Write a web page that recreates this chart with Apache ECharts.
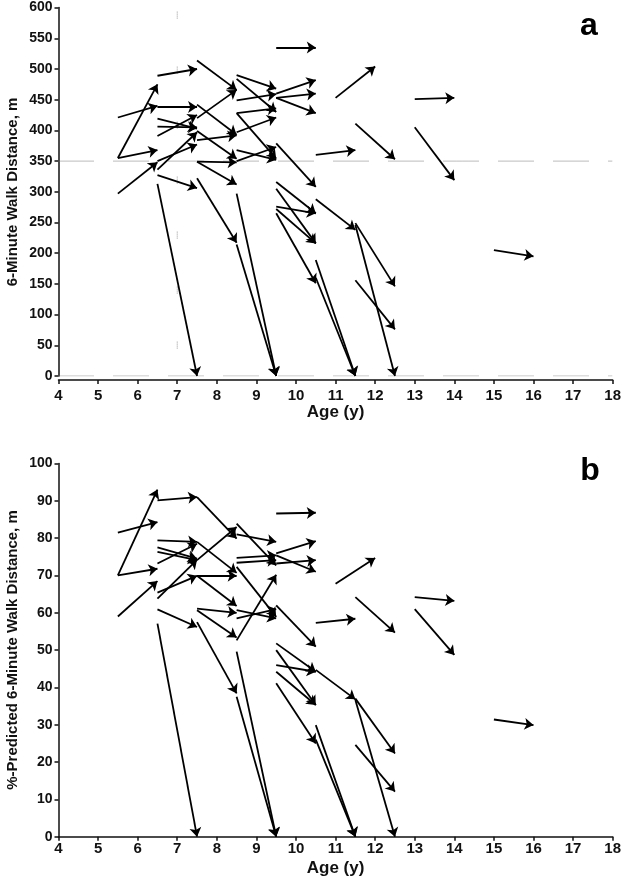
<!DOCTYPE html>
<html><head><meta charset="utf-8">
<script src="https://cdn.jsdelivr.net/npm/echarts@6/dist/echarts.min.js"></script>
<style>html,body{margin:0;padding:0;background:#fff}#c{width:624px;height:882px}</style>
</head><body><div id="c"></div>
<script>
// ---------- Panel a: 6-minute walk distance (m) ----------
const fromAgeA  = [5.5,5.5,5.5,5.5, 6.5,6.5,6.5,6.5,6.5,6.5,6.5,6.5,6.5, 7.5,7.5,7.5,7.5,7.5,7.5,7.5,7.5, 8.5,8.5,8.5,8.5,8.5,8.5,8.5,8.5,8.5,8.5, 9.5,9.5,9.5,9.5,9.5,9.5,9.5,9.5,9.5,9.5, 10.5,10.5,10.5,10.5, 11, 11.5,11.5,11.5,11.5, 13,13, 15];
const fromDistA = [421,355,355,297, 489,438,419,406,391,350,336,327,313, 514,420,442,399,384,349,349,322, 490,484,449,428,428,397,368,350,297,214, 535,460,453,453,379,316,305,276,272,265, 360,288,189,160, 453, 411,249,246,156, 451,405, 205];
const toAgeA    = [6.5,6.5,6.5,6.5, 7.5,7.5,7.5,7.5,7.5,7.5,7.5,7.5,7.5, 8.5,8.5,8.5,8.5,8.5,8.5,8.5,8.5, 9.5,9.5,9.5,9.5,9.5,9.5,9.5,9.5,9.5,9.5, 10.5,10.5,10.5,10.5,10.5,10.5,10.5,10.5,10.5,10.5, 11.5,11.5,11.5,11.5, 12, 12.5,12.5,12.5,12.5, 14,14, 16];
const toDistA   = [440,475,368,348, 500,438,403,405,425,377,397,306,0, 466,466,393,354,392,348,312,217, 468,430,459,436,354,421,352,373,0,0, 535,482,460,428,308,265,216,265,216,151, 368,238,0,0, 504, 353,146,0,76, 453,319, 195];

// ---------- Panel b: %-predicted 6-minute walk distance ----------
const fromAgeB  = fromAgeA.slice();
const fromPctB  = [81.5,70,70,59, 90.1,79.4,77.5,76.3,73.2,65.4,63.8,60.9,57.1, 91,79,74.1,69.9,69.9,61.1,60.7,57.5, 83.9,81,74.7,73.4,72.3,60.7,58.5,52.6,49.6,37.5, 86.6,75.9,75.4,73.2,62,51.8,50,46,44.2,41.1, 57.3,44.7,29.9,26, 67.8, 64.2,37,36.6,24.6, 64.2,61, 31.4];
const toAgeB    = toAgeA.slice();
const toPctB    = [84.3,93,71.8,68.5, 91,79,74.5,74.1,78.5,69.9,74.2,56.2,0, 79.9,70.7,83,69.9,61.8,60,53.4,38.4, 72.7,79,75.4,74.1,58.9,58.5,61,70.2,0,0, 86.8,79.2,71,74.1,50.9,44.2,35.3,44.2,35.3,25, 58.4,36.8,0,0, 74.7, 54.7,22.3,0,12.1, 63.2,48.7, 29.9];

// ---------- axes & reference lines ----------
const ageRange   = [4, 18];
const distRange  = [0, 600];
const pctRange   = [0, 100];
const refDistA   = [350, 0];   // horizontal dotted lines, panel a
const refAgeA    = [7];        // faint vertical dotted line, panel a

const FONT = "'Liberation Sans', Arial, Helvetica, sans-serif";

function arrows(fa, fv, ta, tv) {
  return fa.map((a, i) => ({ coords: [[a, fv[i]], [ta[i], tv[i]]] }));
}
function dotted(len, gap) {
  const d = [];
  for (let i = 0; i < len / 2; i++) d.push(1, 1);
  d[d.length - 1] = gap;
  return d;
}

const axisLineStyle = { color: '#111', width: 1.5 };
const xAxisBase = (gi, margin, nameGap, offset) => ({
  type: 'value', gridIndex: gi, min: ageRange[0], max: ageRange[1], interval: 1,
  offset: offset,
  axisLine: { show: true, onZero: false, lineStyle: axisLineStyle },
  axisTick: { show: true, length: 4, lineStyle: axisLineStyle },
  axisLabel: { margin: margin, color: '#111', fontFamily: FONT, fontWeight: 'bold', fontSize: 15 },
  splitLine: { show: false },
  name: 'Age (y)', nameLocation: 'middle', nameGap: nameGap,
  nameTextStyle: { fontFamily: FONT, fontWeight: 'bold', fontSize: 17, color: '#111', verticalAlign: 'top' }
});
const yAxisBase = (gi, range, interval) => ({
  type: 'value', gridIndex: gi, min: range[0], max: range[1], interval: interval,
  axisLine: { show: true, onZero: false, lineStyle: axisLineStyle },
  axisTick: { show: true, length: 4, lineStyle: axisLineStyle },
  axisLabel: { margin: 6, color: '#111', fontFamily: FONT, fontWeight: 'bold', fontSize: 14 },
  splitLine: { show: false }
});

const arrowSeries = (xi, data) => ({
  type: 'lines', coordinateSystem: 'cartesian2d', xAxisIndex: xi, yAxisIndex: xi,
  data: data, silent: true, z: 5,
  symbol: ['none', 'arrow'], symbolSize: 9,
  lineStyle: { color: '#000', width: 1.8, opacity: 1, curveness: 0 },
  effect: { show: false }
});

const series = [
  arrowSeries(0, arrows(fromAgeA, fromDistA, toAgeA, toDistA)),
  arrowSeries(1, arrows(fromAgeB, fromPctB, toAgeB, toPctB))
];
refDistA.forEach(v => series.push({
  type: 'line', xAxisIndex: 0, yAxisIndex: 0, silent: true, z: 2,
  data: [[ageRange[0], v], [ageRange[1], v]], showSymbol: false, symbol: 'none',
  lineStyle: { color: '#777', width: 1, type: dotted(36, 20) }
}));
refAgeA.forEach(a => series.push({
  type: 'line', xAxisIndex: 0, yAxisIndex: 0, silent: true, z: 2,
  data: [[a, distRange[1]], [a, distRange[0]]], showSymbol: false, symbol: 'none',
  lineStyle: { color: '#999', width: 1, type: dotted(8, 48), dashOffset: -4 }
}));

const chart = echarts.init(document.getElementById('c'), null, { renderer: 'canvas' });
chart.setOption({
  backgroundColor: '#fff',
  animation: false,
  grid: [
    { left: 58.5, top: 7.6, width: 558.5, height: 368.4 },
    { left: 58.5, top: 463.5, width: 558.5, height: 373.2 }
  ],
  xAxis: [xAxisBase(0, 8, 20, 4), xAxisBase(1, 5, 23, 0)],
  yAxis: [yAxisBase(0, distRange, 50), yAxisBase(1, pctRange, 10)],
  graphic: [
    { type: 'text', x: 589, y: 26, style: { text: 'a', font: 'bold 32px ' + FONT, fill: '#000', align: 'center', verticalAlign: 'middle' } },
    { type: 'text', x: 590, y: 471, style: { text: 'b', font: 'bold 32px ' + FONT, fill: '#000', align: 'center', verticalAlign: 'middle' } },
    { type: 'text', x: 13, y: 192, rotation: Math.PI / 2, style: { text: '6-Minute Walk Distance, m', font: 'bold 15px ' + FONT, fill: '#111', align: 'center', verticalAlign: 'middle' } },
    { type: 'text', x: 13, y: 650, rotation: Math.PI / 2, style: { text: '%-Predicted 6-Minute Walk Distance, m', font: 'bold 15px ' + FONT, fill: '#111', align: 'center', verticalAlign: 'middle' } }
  ],
  series: series
});
</script>
</body></html>
